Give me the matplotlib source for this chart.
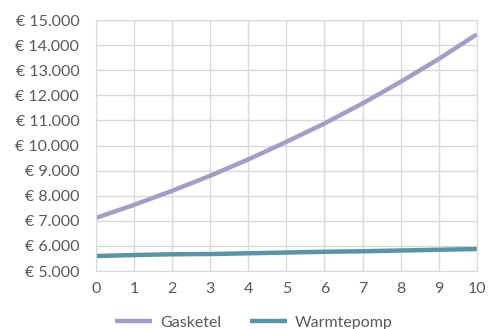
import matplotlib
matplotlib.use('Agg')
import matplotlib.pyplot as plt
from matplotlib.ticker import FuncFormatter

plt.rcParams['font.family'] = ['Lato', 'DejaVu Sans']

years = list(range(0, 11))
gasketel = [7120, 7640, 8200, 8800, 9450, 10150, 10880, 11680, 12540, 13450, 14430]
warmtepomp = [5600, 5640, 5670, 5680, 5710, 5740, 5770, 5790, 5820, 5850, 5880]
yticks = list(range(5000, 15001, 1000))

fig = plt.figure(figsize=(4.9, 3.29), dpi=100)
ax = fig.add_axes([0.196, 0.176, 0.777, 0.763])

ax.plot(years, gasketel, color='#A59DC8', lw=3.2, label='Gasketel', solid_capstyle='butt')
ax.plot(years, warmtepomp, color='#5B93A8', lw=3.2, label='Warmtepomp', solid_capstyle='butt')

ax.set_xlim(0, 10)
ax.set_ylim(5000, 15000)
ax.set_xticks(years)
ax.set_yticks(yticks)
ax.yaxis.set_major_formatter(FuncFormatter(lambda v, p: '€ {:,.0f}'.format(v).replace(',', '.')))
ax.grid(True, color='#D9D9D9', lw=1)
ax.set_axisbelow(True)
for s in ax.spines.values():
    s.set_color('#D9D9D9')
ax.tick_params(length=0, labelsize=11.5, colors='#595959')
ax.tick_params(axis='y', pad=12)
ax.tick_params(axis='x', pad=8)

ax.legend(loc='upper center', bbox_to_anchor=(0.415, -0.12), ncol=2, frameon=False,
          fontsize=11.5, labelcolor='#595959', handlelength=2.3, columnspacing=1.8, handletextpad=0.5)

fig.savefig('out.png', dpi=100)
